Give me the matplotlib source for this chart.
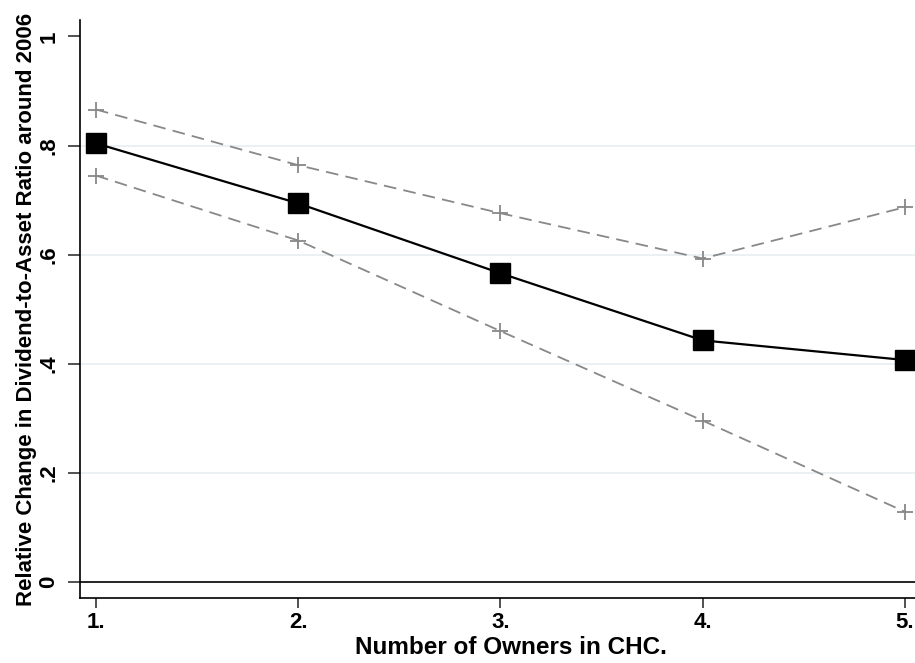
import matplotlib

matplotlib.use("Agg")
import matplotlib.pyplot as plt

owners = [1, 2, 3, 4, 5]
estimate = [0.804, 0.694, 0.566, 0.443, 0.407]
upper_ci = [0.866, 0.764, 0.676, 0.593, 0.687]
lower_ci = [0.745, 0.626, 0.460, 0.296, 0.129]
xtick_labels = ["1.", "2.", "3.", "4.", "5."]
yticks = [0, 0.2, 0.4, 0.6, 0.8, 1]
ytick_labels = ["0", ".2", ".4", ".6", ".8", "1"]

plt.rcParams["font.family"] = ["Liberation Sans", "DejaVu Sans"]
plt.rcParams["font.weight"] = "bold"

fig = plt.figure(figsize=(9.15, 6.63), dpi=100)
# the plot region runs a little past the right edge of the picture
ax = fig.add_axes([80 / 915, 65 / 663, 862 / 915, 578 / 663])

for y in yticks[1:-1]:
    ax.axhline(y, color="#e8eef0", lw=1.2, zorder=0)
ax.axhline(0, color="black", lw=1.2, zorder=1)

ax.plot(owners, upper_ci, color="#888888", lw=1.3, ls=(0, (7, 4)),
        marker="+", ms=11, mew=1.3, zorder=2)
ax.plot(owners, lower_ci, color="#888888", lw=1.3, ls=(0, (7, 4)),
        marker="+", ms=11, mew=1.3, zorder=2)
ax.plot(owners, estimate, color="black", lw=1.6, marker="s", ms=14,
        mfc="black", mec="black", zorder=3)

ax.set_xlim(0.921, 5.183)
ax.set_ylim(-0.029, 1.03)
ax.set_xticks(owners)
ax.set_xticklabels(xtick_labels, fontsize=16, fontweight="bold")
ax.set_yticks(yticks)
ax.set_yticklabels(ytick_labels, fontsize=16, fontweight="bold",
                   rotation=90, va="center")
ax.tick_params(axis="y", length=9, width=1.2, color="#333333", pad=6)
ax.tick_params(axis="x", length=7, width=1.2, color="#333333", pad=3)

for side in ["top", "right"]:
    ax.spines[side].set_visible(False)
for side in ["left", "bottom"]:
    ax.spines[side].set_linewidth(1.2)

ax.set_xlabel("Number of Owners in CHC.", fontsize=17.5, fontweight="bold",
              labelpad=2)
ax.set_ylabel("Relative Change in Dividend-to-Asset Ratio around 2006",
              fontsize=16, fontweight="bold", labelpad=1)

fig.savefig("out.png", dpi=100)
